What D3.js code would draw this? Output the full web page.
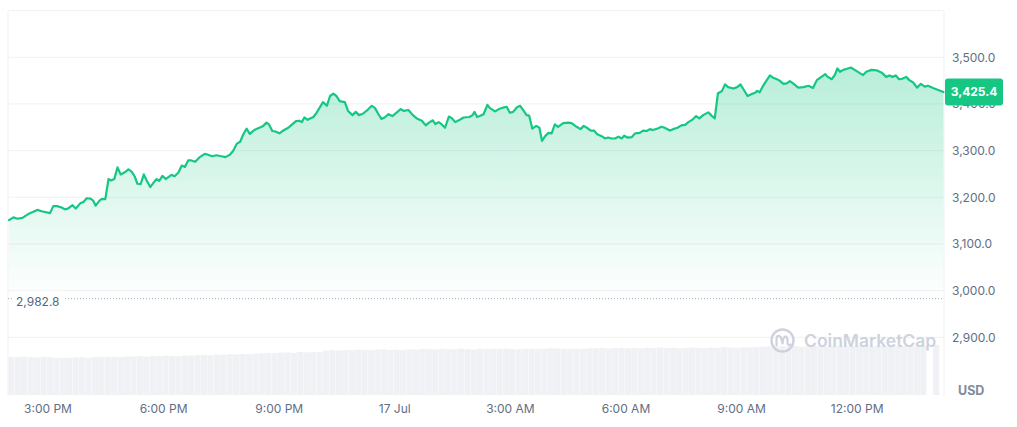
<!DOCTYPE html>
<html><head><meta charset="utf-8">
<script src="https://cdn.jsdelivr.net/npm/d3@7"></script>
<style>
body{margin:0;background:#fff;font-family:Inter,"Noto Sans",sans-serif;}
svg{display:block}
</style>
</head><body>
<svg id="chart" width="1017" height="427"></svg>
<script>
// minutes since 16 Jul 2024 00:00
const times = [840,847,853,861,870,878,884,891,904,909,915,922,927,932,939,944,951,956,961,967,971,975,981,984,990,995,999,1004,1009,1014,1021,1026,1031,1036,1040,1045,1050,1054,1060,1065,1070,1074,1079,1084,1093,1098,1104,1109,1114,1119,1124,1130,1137,1145,1150,1156,1163,1171,1177,1184,1189,1195,1200,1205,1210,1215,1222,1228,1236,1241,1245,1250,1255,1261,1267,1275,1280,1287,1292,1296,1300,1305,1314,1319,1329,1335,1340,1345,1350,1355,1363,1368,1375,1380,1385,1391,1399,1405,1410,1415,1420,1425,1431,1437,1444,1450,1455,1462,1469,1475,1483,1489,1494,1500,1504,1509,1514,1519,1525,1530,1535,1542,1548,1557,1562,1565,1569,1573,1579,1585,1589,1597,1603,1609,1615,1620,1625,1631,1636,1641,1646,1650,1655,1661,1666,1670,1675,1680,1685,1690,1695,1703,1711,1716,1724,1730,1735,1740,1746,1751,1756,1763,1768,1773,1778,1784,1789,1794,1798,1803,1810,1815,1822,1828,1833,1838,1843,1851,1856,1861,1869,1874,1881,1887,1893,1898,1905,1910,1915,1921,1929,1934,1939,1944,1950,1955,1960,1968,1974,1979,1984,1990,1996,2002,2005,2009,2014,2020,2025,2030,2036,2040,2046,2051,2056,2061,2069,2077,2085,2092,2098,2105,2111,2114,2121,2126,2130,2134,2139,2144,2151,2157,2165,2170,2175,2183,2191,2199,2206,2211,2216,2221,2226,2231,2237,2242,2248,2254,2260,2266,2271,2279,2287,2295];
const prices = [3151,3157,3154,3156,3164,3169,3173,3170,3166,3181,3181,3178,3174,3176,3183,3176,3187,3190,3198,3197,3193,3182,3193,3196,3196,3239,3236,3239,3264,3249,3254,3260,3255,3244,3229,3228,3249,3237,3222,3231,3239,3235,3246,3239,3248,3245,3253,3268,3265,3279,3279,3276,3286,3293,3291,3288,3290,3288,3286,3291,3299,3315,3319,3335,3347,3336,3344,3348,3353,3360,3356,3342,3341,3337,3343,3349,3355,3363,3364,3361,3371,3366,3372,3381,3404,3396,3417,3422,3417,3406,3404,3385,3376,3383,3376,3379,3388,3396,3391,3379,3368,3371,3378,3374,3382,3389,3385,3387,3376,3369,3364,3354,3360,3365,3357,3361,3356,3349,3373,3369,3361,3366,3371,3372,3376,3383,3372,3374,3378,3398,3391,3384,3389,3392,3394,3381,3383,3393,3396,3386,3376,3375,3347,3353,3349,3321,3331,3338,3337,3356,3351,3359,3360,3359,3351,3346,3353,3349,3343,3343,3335,3331,3326,3328,3326,3326,3330,3326,3332,3328,3329,3337,3338,3343,3342,3346,3344,3348,3351,3349,3343,3346,3349,3354,3355,3361,3367,3374,3369,3376,3382,3375,3369,3423,3427,3442,3436,3433,3436,3442,3431,3417,3421,3424,3428,3425,3438,3451,3461,3456,3453,3450,3443,3444,3449,3444,3435,3436,3439,3434,3451,3458,3464,3459,3453,3462,3476,3469,3473,3475,3478,3473,3466,3462,3469,3473,3472,3467,3458,3461,3458,3461,3453,3454,3458,3451,3446,3435,3443,3437,3439,3434,3430,3425.4];

// volume bars (billions USD), one every 10 minutes starting at volStart
const volStart = 839;
const volStep = 10;
const volumes = [14.1,14.0,14.2,14.0,13.9,14.1,14.0,13.8,
13.7,13.8,13.9,14.0,13.8,14.0,
14.1,14.0,14.2,14.1,14.3,
14.3,14.4,14.2,14.5,14.4,14.6,14.5,14.4,14.7,14.6,
14.8,14.9,14.7,15.0,14.9,15.1,15.0,15.2,15.1,15.3,
15.4,15.6,15.5,15.7,15.8,15.6,15.9,15.8,16.0,15.9,
16.4,16.6,16.5,16.7,16.6,16.8,16.7,16.6,16.8,16.9,16.7,16.8,16.6,16.9,16.8,17.0,
17.0,16.9,17.1,16.9,17.0,17.2,17.0,16.8,17.1,17.0,
17.1,17.0,17.2,17.1,16.9,17.1,17.2,17.0,17.1,17.3,17.2,17.0,17.1,17.2,17.1,17.3,
17.3,17.4,17.2,17.4,17.5,17.3,17.4,17.3,17.5,17.4,17.6,17.4,17.5,17.3,17.4,17.6,17.5,17.4,17.6,17.5,17.7,17.6,17.5,17.7,17.6,17.8,
17.9,18.0,17.9,18.1,18.0,18.1,17.9,18.0,18.2,18.1,18.0,18.1,18.2,18.0,18.1,18.2,18.1,18.0,18.2,18.1,18.3,18.2,18.1,18.2,18.1,18.0,
null,18.6];

const priceTicks = [2900,3000,3100,3200,3300,3400,3500];
const gridValues = [2900,3000,3100,3200,3300,3400,3500,3600];
const timeTickMinutes = [900,1080,1260,1440,1620,1800,1980,2160];
const timeTickLabels = ["3:00 PM","6:00 PM","9:00 PM","17 Jul","3:00 AM","6:00 AM","9:00 AM","12:00 PM"];
const refPrice = 2982.8;
const lastPrice = 3425.4;
const domainMinutes = [838.5, 2296];

const base = new Date(2024, 6, 16, 0, 0, 0).getTime();
const toDate = m => new Date(base + m * 60000);

const svg = d3.select("#chart");
const left = 8, right = 944;
const x = d3.scaleTime().domain(domainMinutes.map(toDate)).range([left, right]);
const y = d3.scaleLinear().domain([2900, 3600]).range([337.3, 10.6]);
const yv = d3.scaleLinear().domain([0, 20]).range([395, 341]);

const fmt = d3.format(",.1f");
const axisColor = "#616e85";

// grid
svg.append("g").selectAll("line").data(gridValues).join("line")
  .attr("x1", left).attr("x2", right)
  .attr("y1", d => y(d)).attr("y2", d => y(d))
  .attr("stroke", "#eff1f4").attr("stroke-width", 1);
svg.append("line").attr("x1", left).attr("x2", left).attr("y1", y(3600)).attr("y2", 396)
  .attr("stroke", "#eff1f4");
svg.append("line").attr("x1", right).attr("x2", right).attr("y1", y(3600)).attr("y2", 396)
  .attr("stroke", "#eff1f4");

// volume bars
const volData = volumes.map((v, i) => ({t: volStart + i * volStep, v}));
const bw = x(toDate(volStart + volStep)) - x(toDate(volStart));
svg.append("g").selectAll("rect").data(volData.filter(d => d.v != null)).join("rect")
  .attr("x", d => x(toDate(d.t)))
  .attr("width", d => Math.max(0, Math.min(bw - 0.3, right - 0.5 - x(toDate(d.t)))))
  .attr("y", d => yv(d.v))
  .attr("height", d => yv(0) - yv(d.v))
  .attr("fill", "#f0f1f4");

// watermark
const wm = svg.append("g").attr("transform", "translate(782.5,340.5)");
wm.append("circle").attr("r", 11).attr("fill", "none").attr("stroke", "#cdd2dd").attr("stroke-width", 2.4);
wm.append("path").attr("d", "M-6,5 L-6,-1 C-6,-6 -2,-6 -1,-1 L0,3 C1,-5 4,-6 5,-1 L5,2 C5,5 7,5 8,4")
  .attr("fill", "none").attr("stroke", "#cdd2dd").attr("stroke-width", 2.2).attr("stroke-linecap", "round").attr("stroke-linejoin", "round");
svg.append("text").attr("x", 804).attr("y", 347).text("CoinMarketCap")
  .attr("font-size", 17.5).attr("font-weight", 600).attr("fill", "#cdd2dd");

// area gradient
const defs = svg.append("defs");
const grad = defs.append("linearGradient").attr("id", "ag")
  .attr("gradientUnits", "userSpaceOnUse").attr("x1", 0).attr("x2", 0)
  .attr("y1", y(3500)).attr("y2", y(refPrice));
grad.append("stop").attr("offset", 0).attr("stop-color", "#16c784").attr("stop-opacity", 0.32);
grad.append("stop").attr("offset", 1).attr("stop-color", "#16c784").attr("stop-opacity", 0.0);

const pts = times.map((t, i) => ({t: toDate(t), p: prices[i]}));
const area = d3.area().x(d => x(d.t)).y0(y(refPrice)).y1(d => y(d.p));
svg.append("path").datum(pts).attr("d", area).attr("fill", "url(#ag)");

// reference dotted line
svg.append("line").attr("x1", left).attr("x2", right)
  .attr("y1", y(refPrice)).attr("y2", y(refPrice))
  .attr("stroke", "#a6acb8").attr("stroke-width", 1).attr("stroke-dasharray", "1,2");
svg.append("rect").attr("x", 12).attr("y", y(refPrice) - 8).attr("width", 52).attr("height", 16).attr("fill", "#fff");
svg.append("text").attr("x", 16).attr("y", y(refPrice) + 7.5).text(fmt(refPrice))
  .attr("font-size", 12).attr("fill", "#58667e");

// price line
const line = d3.line().x(d => x(d.t)).y(d => y(d.p));
svg.append("path").datum(pts).attr("d", line)
  .attr("fill", "none").attr("stroke", "#16c784").attr("stroke-width", 2.2)
  .attr("stroke-linejoin", "round").attr("stroke-linecap", "round");

// right axis
const yAxis = d3.axisRight(y).tickValues(priceTicks).tickSize(0).tickPadding(8).tickFormat(fmt);
const ya = svg.append("g").attr("transform", `translate(${right},0)`).call(yAxis);
ya.select(".domain").remove();
ya.selectAll("text").attr("font-size", 12).attr("font-family", "Inter,'Noto Sans',sans-serif").attr("fill", axisColor);

// bottom axis
const xAxis = d3.axisBottom(x).tickValues(timeTickMinutes.map(toDate)).tickSize(0).tickPadding(0)
  .tickFormat((d, i) => timeTickLabels[i]);
const xa = svg.append("g").attr("transform", "translate(0,404)").call(xAxis);
xa.select(".domain").remove();
xa.selectAll("text").attr("font-size", 12).attr("font-family", "Inter,'Noto Sans',sans-serif").attr("fill", axisColor);

// USD label
svg.append("text").attr("x", 958).attr("y", 394.5).text("USD")
  .attr("font-size", 12.5).attr("font-weight", 700).attr("fill", "#808a9d");

// last price badge
const by = y(lastPrice);
svg.append("rect").attr("x", 945).attr("y", by - 13.5).attr("width", 58).attr("height", 27)
  .attr("rx", 3).attr("fill", "#16c784");
svg.append("text").attr("x", 974).attr("y", by + 4.4).attr("text-anchor", "middle")
  .text(fmt(lastPrice)).attr("font-size", 12).attr("font-weight", 700).attr("fill", "#fff");
</script>
</body></html>
